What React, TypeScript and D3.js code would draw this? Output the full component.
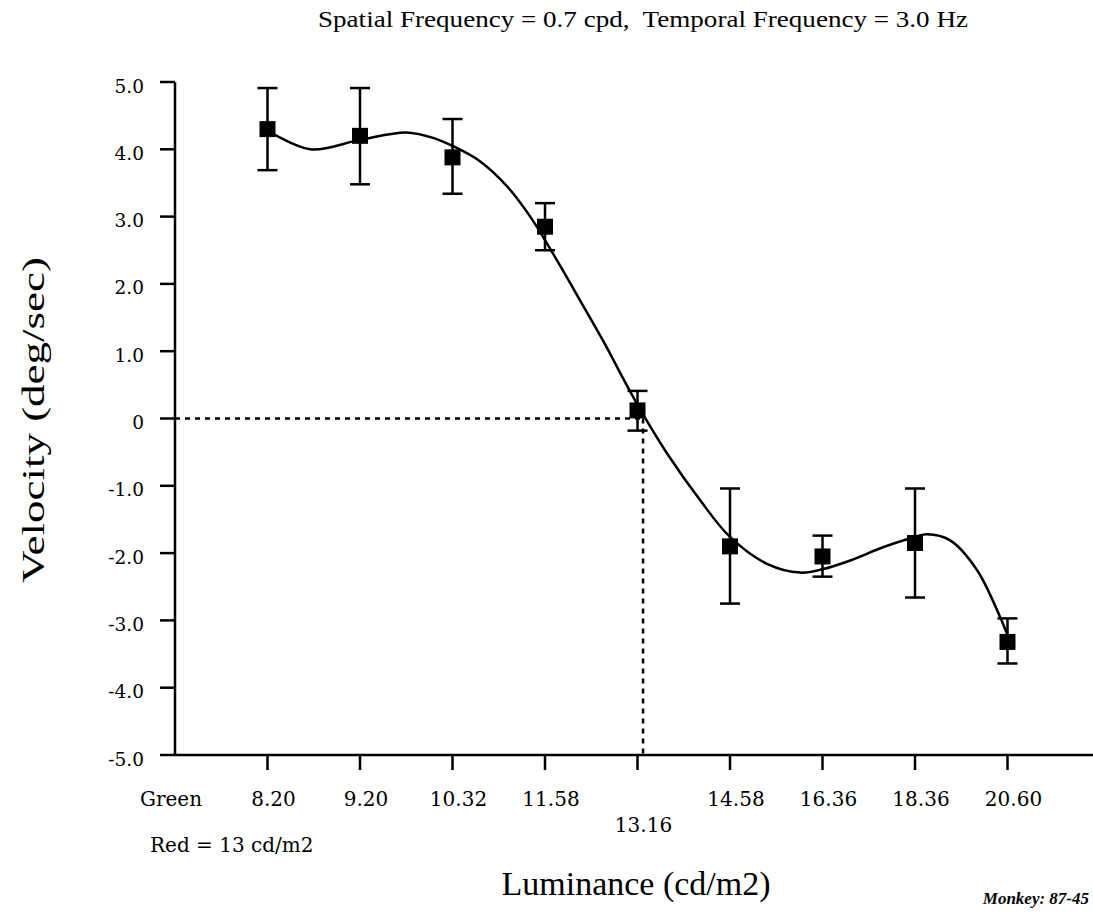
import React from 'react';
import * as d3 from 'd3';

// Green luminance steps (cd/m2), red fixed at 13 cd/m2
const luminanceLabels = ['8.20', '9.20', '10.32', '11.58', '13.16', '14.58', '16.36', '18.36', '20.60'];
// Mean velocity and error-bar limits (deg/sec)
const velocityMean = [4.3, 4.2, 3.88, 2.85, 0.12, -1.9, -2.05, -1.85, -3.32];
const velocityHigh = [4.91, 4.91, 4.45, 3.2, 0.41, -1.04, -1.74, -1.04, -2.97];
const velocityLow = [3.69, 3.48, 3.34, 2.5, -0.18, -2.75, -2.35, -2.66, -3.64];
// Fitted curve, sampled along the luminance step index
const fitPosition = [0, 0.46, 1.0, 1.5, 1.79, 2.0, 2.3, 2.59, 2.84, 3.16, 3.41, 3.67, 3.85, 4.06, 4.32, 4.68, 5.0, 5.4, 5.76, 6.0, 6.3, 6.66, 7.0, 7.13, 7.38, 7.67, 7.92, 8.0];
const fitVelocity = [4.28, 4.0, 4.14, 4.25, 4.17, 4.05, 3.82, 3.45, 3.0, 2.28, 1.68, 1.05, 0.58, 0.06, -0.52, -1.22, -1.76, -2.16, -2.29, -2.24, -2.11, -1.91, -1.76, -1.72, -1.81, -2.25, -2.95, -3.22];
// Step index where the fit crosses zero velocity
const nullPosition = 4.06;
const velocityTicks = [5, 4, 3, 2, 1, 0, -1, -2, -3, -4, -5];

const W = 1093;
const H = 916;
const serif = '"Liberation Serif", "Times New Roman", serif';
const wideSerif = '"DejaVu Serif", serif';

export default function App() {
  const x = d3.scaleLinear().domain([-1, 9]).range([175, 1100]);
  const y = d3.scaleLinear().domain([-5, 5]).range([755, 82]);

  const fitLine = d3
    .line<number>()
    .x((_, i) => x(fitPosition[i]))
    .y((v) => y(v))
    .curve(d3.curveCatmullRom.alpha(0.5));

  const fmt = (v: number) => (v === 0 ? '0' : v.toFixed(1));
  const sw = 2.5;
  const box = 16;
  const cap = 10;

  return (
    <svg
      width={W}
      height={H}
      style={{ position: 'absolute', left: 0, top: 0, background: '#fff' }}
      fontFamily={serif}
    >
      <rect width={W} height={H} fill="#fff" />

      {/* title */}
      <text x={643} y={27} fontSize={23} textAnchor="middle" textLength={650} lengthAdjust="spacingAndGlyphs">
        {'Spatial Frequency = 0.7 cpd,\u00A0 Temporal Frequency = 3.0 Hz'}
      </text>

      {/* zero-velocity reference lines */}
      <g stroke="#000" strokeWidth={sw} strokeDasharray="5,5">
        <line x1={x(-1)} x2={x(nullPosition)} y1={y(0)} y2={y(0)} />
        <line x1={x(nullPosition)} x2={x(nullPosition)} y1={y(0)} y2={y(-5)} />
      </g>

      {/* y axis */}
      <g stroke="#000" strokeWidth={sw}>
        <line x1={x(-1)} x2={x(-1)} y1={y(5)} y2={y(-5)} />
        {velocityTicks.map((t) => (
          <line key={t} x1={x(-1) - 15} x2={x(-1)} y1={y(t)} y2={y(t)} />
        ))}
      </g>
      {velocityTicks.map((t) => (
        <text key={t} x={144} y={y(t) + 10.5} textAnchor="end" fontSize={18.5} fontFamily={wideSerif}>
          {fmt(t)}
        </text>
      ))}

      {/* x axis */}
      <g stroke="#000" strokeWidth={sw}>
        <line x1={x(-1)} x2={x(9)} y1={y(-5)} y2={y(-5)} />
        {luminanceLabels.map((_, i) => (
          <line key={i} x1={x(i)} x2={x(i)} y1={y(-5)} y2={y(-5) + 15} />
        ))}
      </g>
      <text x={140} y={806} fontSize={20} fontFamily={wideSerif}>Green</text>
      {luminanceLabels.map((l, i) => (
        <text
          key={l}
          x={x(i) + 6}
          y={i === 4 ? 832 : 806}
          fontSize={20}
          textAnchor="middle"
          fontFamily={wideSerif}
        >
          {l}
        </text>
      ))}
      <text x={150} y={852} fontSize={20} fontFamily={wideSerif}>Red = 13 cd/m2</text>

      {/* axis titles */}
      <text x={636} y={895} fontSize={34} textAnchor="middle">Luminance (cd/m2)</text>
      <text
        transform="translate(44,420) rotate(-90)"
        fontSize={31}
        textAnchor="middle"
        textLength={326}
        lengthAdjust="spacingAndGlyphs"
      >
        Velocity (deg/sec)
      </text>

      {/* fitted curve */}
      <path d={fitLine(fitVelocity) ?? ''} fill="none" stroke="#000" strokeWidth={sw} />

      {/* error bars and means */}
      <g stroke="#000" strokeWidth={sw}>
        {velocityMean.map((_, i) => (
          <g key={i}>
            <line x1={x(i)} x2={x(i)} y1={y(velocityHigh[i])} y2={y(velocityLow[i])} />
            <line x1={x(i) - cap} x2={x(i) + cap} y1={y(velocityHigh[i])} y2={y(velocityHigh[i])} />
            <line x1={x(i) - cap} x2={x(i) + cap} y1={y(velocityLow[i])} y2={y(velocityLow[i])} />
          </g>
        ))}
      </g>
      {velocityMean.map((v, i) => (
        <rect key={i} x={x(i) - box / 2} y={y(v) - box / 2} width={box} height={box} fill="#000" />
      ))}

      <text x={1089} y={904} fontSize={17} fontWeight="bold" fontStyle="italic" textAnchor="end">
        Monkey: 87-45
      </text>
    </svg>
  );
}
